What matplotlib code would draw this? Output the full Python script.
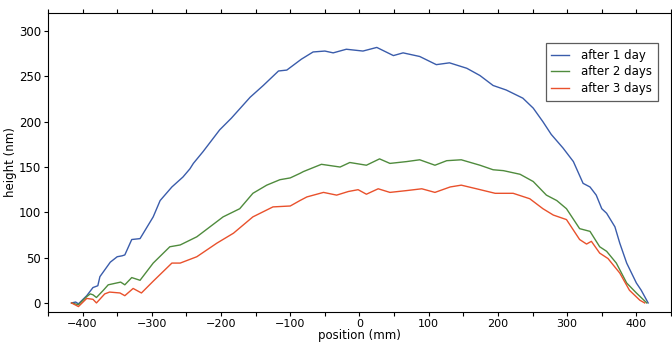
import numpy as np
import matplotlib
matplotlib.use("Agg")
import matplotlib.pyplot as plt

# values
x1 = [-416, -410, -406, -394, -385, -378, -375, -360, -350, -343, -339, -329, -317, -298, -288, -271,
      -255, -245, -240, -226, -202, -185, -158, -139, -117, -105, -84, -67, -50, -38, -19, 5, 25, 49,
      63, 87, 111, 130, 155, 174, 193, 212, 236, 251, 265, 277, 294, 309, 323, 333, 342, 350, 357,
      369, 376, 386, 400, 407, 417]
y1 = [0, 1, -1, 8, 17, 19, 29, 45, 51, 52, 53, 70, 71, 95, 113, 128,
      139, 148, 154, 167, 191, 204, 227, 240, 256, 257, 269, 277, 278, 276, 280, 278, 282, 273,
      276, 272, 263, 265, 259, 251, 240, 235, 226, 215, 200, 186, 171, 156, 132, 128, 119, 104, 99,
      84, 66, 44, 22, 14, 0]

x2 = [-416, -406, -394, -389, -385, -380, -370, -363, -351, -345, -339, -329, -317, -298, -274, -259,
      -235, -216, -197, -173, -154, -134, -115, -100, -86, -81, -55, -28, -14, 10, 29, 44, 68, 87,
      109, 126, 147, 174, 193, 208, 232, 251, 270, 285, 299, 318, 333, 347, 357, 371, 386, 400, 415]
y2 = [0, -2, 7, 10, 9, 6, 14, 20, 22, 23, 20, 28, 25, 44, 62, 64,
      73, 84, 95, 104, 121, 130, 136, 138, 143, 145, 153, 150, 155, 152, 159, 154, 156, 158,
      152, 157, 158, 152, 147, 146, 142, 134, 119, 113, 104, 82, 79, 62, 57, 44, 22, 11, 0]

x3 = [-416, -406, -394, -385, -380, -368, -361, -346, -339, -327, -315, -298, -271, -259, -235, -206,
      -182, -154, -125, -100, -86, -76, -52, -33, -16, -2, 10, 27, 44, 68, 90, 109, 131, 147, 169,
      196, 222, 246, 265, 280, 299, 318, 328, 335, 347, 359, 376, 390, 405, 412]
y3 = [0, -4, 5, 4, 0, 10, 12, 11, 8, 16, 11, 24, 44, 44, 51, 66,
      77, 95, 106, 107, 113, 117, 122, 119, 123, 125, 120, 126, 122, 124, 126, 122, 128, 130, 126,
      121, 121, 115, 104, 97, 92, 70, 65, 68, 55, 49, 33, 14, 3, 0]

labels = ["after 1 day", "after 2 days", "after 3 days"]
colors = ["#3a5cab", "#4f8b3d", "#e9512c"]

fig = plt.figure(figsize=(6.72, 3.42), dpi=100)
ax = fig.add_axes([0.0714, 0.0877, 0.9271, 0.8743])

for xs, ys, lab, c in zip([x1, x2, x3], [y1, y2, y3], labels, colors):
    ax.plot(xs, ys, c=c, lw=1.0, label=lab)

ax.set_xlim(-450, 450)
ax.set_ylim(-10, 320)
ax.set_xticks(np.arange(-400, 401, 100))
ax.set_xticks(np.arange(-450, 451, 50), minor=True)
ax.set_yticks(np.arange(0, 301, 50))
ax.tick_params(which="both", direction="out", top=True, right=True, length=3, width=0.8, pad=2)
ax.tick_params(axis="x", labelsize=8)
ax.tick_params(axis="y", labelsize=8.5)
ax.set_xlabel("position (mm)", fontsize=8.5, labelpad=0)
ax.set_ylabel("height (nm)", fontsize=8.5, labelpad=1)

leg = ax.legend(loc="upper right", bbox_to_anchor=(0.979, 0.9), borderaxespad=0, fontsize=8.5,
                fancybox=False, edgecolor="#333333", handlelength=1.5, handletextpad=1.0,
                borderpad=0.5, labelspacing=0.3)
leg.get_frame().set_linewidth(0.9)

plt.savefig("out.png", dpi=100)
